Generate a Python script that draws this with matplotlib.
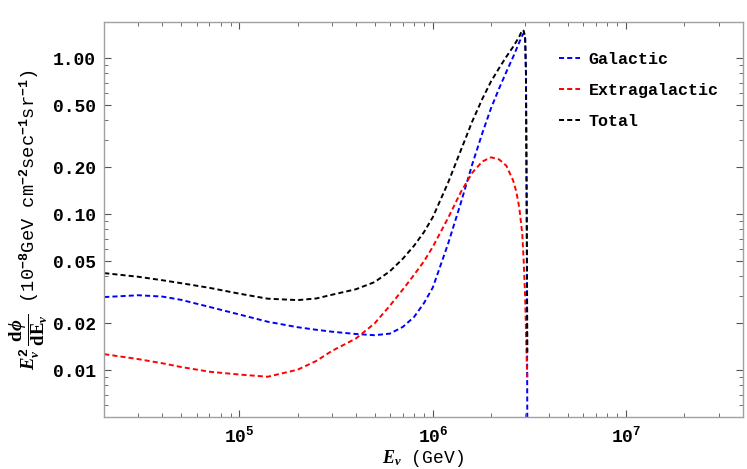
import numpy as np
import matplotlib
matplotlib.use('Agg')
import matplotlib.pyplot as plt
from matplotlib.ticker import FixedLocator, FixedFormatter, LogLocator, NullFormatter

# fonts: bold courier-like text, like the Mathematica original
plt.rcParams['font.family'] = ['Liberation Mono', 'DejaVu Sans']
plt.rcParams['font.weight'] = 'bold'
plt.rcParams['mathtext.fontset'] = 'custom'
plt.rcParams['mathtext.rm'] = 'Liberation Mono:bold'
plt.rcParams['mathtext.bf'] = 'Liberation Mono:bold'
plt.rcParams['mathtext.it'] = 'Liberation Serif:italic:bold'
plt.rcParams['mathtext.sf'] = 'Liberation Serif:bold'

# neutrino energy (GeV)
energy = [2e4, 3e4, 4e4, 5e4, 7e4, 1e5, 1.4e5, 2e5, 2.5e5, 3e5, 4e5, 5e5, 6e5,
          7e5, 8e5, 9e5, 1e6, 1.2e6, 1.4e6, 1.6e6, 1.8e6, 2e6, 2.2e6, 2.4e6,
          2.6e6, 2.7e6, 2.8e6, 2.9e6, 2.95e6, 3.0e6, 3.03e6, 3.06e6, 3.08e6]

# E^2 dphi/dE  (1e-8 GeV cm^-2 s^-1 sr^-1)
galactic = [0.0295, 0.0303, 0.0297, 0.0283, 0.0255, 0.0228, 0.0205, 0.0189,
            0.0182, 0.0177, 0.0171, 0.0168, 0.0172, 0.019, 0.022, 0.027,
            0.034, 0.065, 0.12, 0.21, 0.33, 0.48, 0.64, 0.82, 1.02, 1.14,
            1.27, 1.40, 1.45, 1.35, 0.8, 0.08, 0.004]
extragalactic = [0.0127, 0.0118, 0.0111, 0.0105, 0.0098, 0.0094, 0.0091, 0.0101,
                 0.0115, 0.0133, 0.0160, 0.0200, 0.026, 0.033, 0.041, 0.050,
                 0.062, 0.095, 0.14, 0.185, 0.218, 0.232, 0.225, 0.205, 0.165,
                 0.14, 0.11, 0.075, 0.05, 0.03, 0.018, 0.011, 0.009]
total = [0.042, 0.0398, 0.0378, 0.0362, 0.0338, 0.0310, 0.0288, 0.0282, 0.0289,
         0.0305, 0.0331, 0.0368, 0.0432, 0.052, 0.063, 0.077, 0.096, 0.16,
         0.26, 0.395, 0.548, 0.712, 0.865, 1.025, 1.185, 1.28, 1.38, 1.52,
         1.50, 1.38, 0.82, 0.09, 0.013]

ytick_vals = [0.01, 0.02, 0.05, 0.10, 0.20, 0.50, 1.00]
ytick_labels = ['0.01', '0.02', '0.05', '0.10', '0.20', '0.50', '1.00']
xtick_vals = [1e5, 1e6, 1e7]
xtick_labels = [r'$\mathbf{10^{5}}$', r'$\mathbf{10^{6}}$', r'$\mathbf{10^{7}}$']

fig = plt.figure(figsize=(7.47, 4.69), dpi=100)
ax = fig.add_axes([0.1396, 0.1102, 0.8546, 0.8429])

dash = (0, (2.6, 1.6))
ax.plot(energy, galactic, color='#0000ff', lw=1.4, linestyle=dash, label='Galactic')
ax.plot(energy, extragalactic, color='#ff0000', lw=1.4, linestyle=dash, label='Extragalactic')
ax.plot(energy, total, color='black', lw=1.4, linestyle=dash, label='Total')

ax.set_xscale('log')
ax.set_yscale('log')
ax.set_xlim(2e4, 4e7)
ax.set_ylim(0.005, 1.71)

ax.yaxis.set_major_locator(FixedLocator(ytick_vals))
ax.yaxis.set_major_formatter(FixedFormatter(ytick_labels))
ax.yaxis.set_minor_locator(LogLocator(base=10, subs=np.arange(2, 10)))
ax.yaxis.set_minor_formatter(NullFormatter())
ax.xaxis.set_major_locator(FixedLocator(xtick_vals))
ax.xaxis.set_major_formatter(FixedFormatter(xtick_labels))
ax.xaxis.set_minor_locator(LogLocator(base=10, subs=np.arange(2, 10)))
ax.xaxis.set_minor_formatter(NullFormatter())

for s in ax.spines.values():
    s.set_color('#a0a0a0')
    s.set_linewidth(1.0)
ax.tick_params(which='both', direction='in', top=True, right=True, color='#555555',
               labelsize=13, pad=6)
ax.tick_params(which='major', length=5, width=0.8)
ax.tick_params(which='minor', length=3, width=0.6)

ax.set_xlabel(r'$\mathit{E}_{\nu}$ (GeV)', fontsize=13, labelpad=1)
ax.set_ylabel(r'$\mathit{E}_{\nu}^{2}\,\dfrac{\mathsf{d}\phi}{\mathsf{dE}_{\nu}}$'
              r' (10$^{-8}$GeV cm$^{-2}$sec$^{-1}$sr$^{-1}$)', fontsize=13.5, labelpad=2)

leg = ax.legend(loc='upper left', bbox_to_anchor=(0.712, 0.924), frameon=False,
                fontsize=12, handlelength=1.3, handletextpad=0.5, labelspacing=0.95,
                borderpad=0, borderaxespad=0)

fig.savefig('out.png', dpi=100)
